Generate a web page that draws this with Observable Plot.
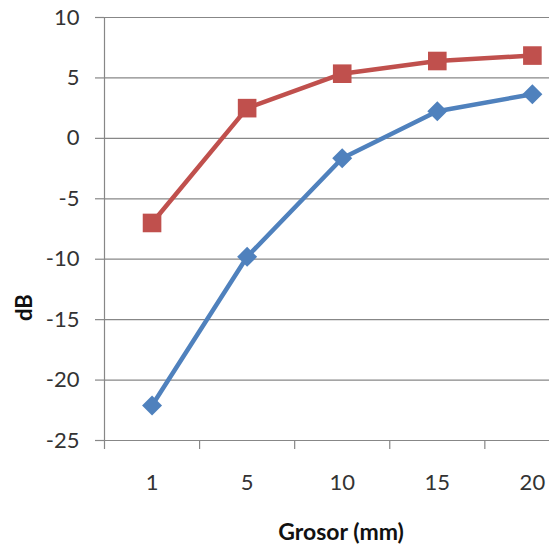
<!DOCTYPE html>
<html>
<head>
<meta charset="utf-8">
<script src="https://cdn.jsdelivr.net/npm/d3@7"></script>
<script src="https://cdn.jsdelivr.net/npm/@observablehq/plot@0.6"></script>
<style>
  html, body { margin: 0; padding: 0; background: #fff; }
</style>
</head>
<body>
<div id="chart"></div>
<script>
const categories = ["1", "5", "10", "15", "20"];
const redValues = [-7.0, 2.5, 5.35, 6.4, 6.85];
const blueValues = [-22.1, -9.8, -1.65, 2.25, 3.65];
const yTicks = [-25, -20, -15, -10, -5, 0, 5, 10];
const xTitle = "Grosor (mm)";
const yTitle = "dB";
// the original picture is cut off on the right, inside the last category
const visibleCategorySpan = 4.68;

const red = categories.map((c, i) => ({i: i + 0.5, v: redValues[i]}));
const blue = categories.map((c, i) => ({i: i + 0.5, v: blueValues[i]}));
const edges = d3.range(categories.length);
const centers = categories.map((c, i) => i + 0.5);

const font = "Lato, 'Open Sans', sans-serif";
const gridColor = "#878787";

const chart = Plot.plot({
  width: 556,
  height: 551,
  marginLeft: 104,
  marginRight: 7,
  marginTop: 17,
  marginBottom: 111,
  style: {fontFamily: font, fontSize: "22px", color: "#333", background: "#fff"},
  x: {domain: [0, visibleCategorySpan]},
  y: {domain: [-25, 10]},
  marks: [
    Plot.gridY(yTicks, {stroke: gridColor, strokeOpacity: 1, strokeWidth: 1.2}),
    Plot.axisY(yTicks, {tickSize: 9, tickPadding: 16, tickFormat: (d) => String(d), stroke: gridColor, strokeWidth: 1.2, label: null, fill: "#333", fontSize: 22}),
    Plot.axisX(edges, {tickSize: 9, tickFormat: () => "", stroke: gridColor, strokeWidth: 1.2, label: null}),
    Plot.axisX(centers, {tickSize: 0, tickPadding: 34, tickFormat: (d) => categories[Math.floor(d)], label: null, fill: "#333", fontSize: 22}),
    Plot.ruleX([0], {stroke: gridColor, strokeWidth: 1.2}),
    Plot.line(red, {x: "i", y: "v", stroke: "#C0504D", strokeWidth: 4.5}),
    Plot.dot(red, {x: "i", y: "v", symbol: "square", r: 10.5, fill: "#C0504D", stroke: "none"}),
    Plot.line(blue, {x: "i", y: "v", stroke: "#4F81BD", strokeWidth: 4.5}),
    Plot.dot(blue, {x: "i", y: "v", symbol: "diamond2", r: 9, fill: "#4F81BD", stroke: "none"}),
    Plot.text([xTitle], {frameAnchor: "bottom", dy: 99, dx: 14, fontWeight: "bold", fontSize: 23, fill: "#111", fontFamily: font}),
    Plot.text([yTitle], {frameAnchor: "left", dx: -80, dy: 92, rotate: -90, fontWeight: "bold", fontSize: 22, fill: "#111", fontFamily: font})
  ]
});
document.getElementById("chart").appendChild(chart);
</script>
</body>
</html>
